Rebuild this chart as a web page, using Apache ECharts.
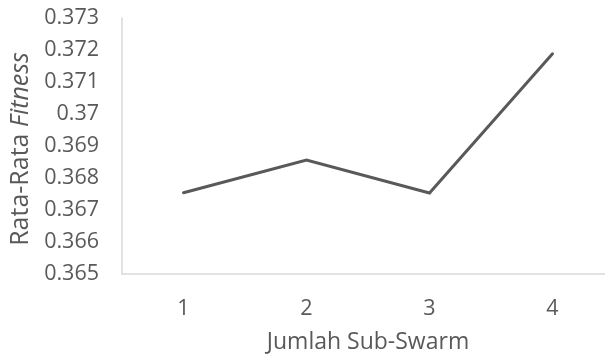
<!DOCTYPE html>
<html>
<head>
<meta charset="utf-8">
<script src="https://cdn.jsdelivr.net/npm/echarts@6/dist/echarts.min.js"></script>
<style>
html,body{margin:0;padding:0;background:#fff;}
#c{width:605px;height:358px;}
</style>
</head>
<body>
<div id="c"></div>
<script>
var categories = ['1', '2', '3', '4'];
var fitnessValues = [0.36754, 0.36856, 0.36753, 0.37188];
var yMin = 0.365, yMax = 0.373, yStep = 0.001;

var chart = echarts.init(document.getElementById('c'), null, {renderer: 'canvas'});
var fontFam = '"Open Sans", sans-serif';
chart.setOption({
  animation: false,
  grid: {left: 122, top: 18, width: 492, height: 256, containLabel: false, outerBoundsMode: 'none'},
  xAxis: {
    type: 'category',
    data: categories,
    boundaryGap: true,
    axisLine: {lineStyle: {color: '#d9d9d9', width: 1.5}},
    axisTick: {show: false},
    axisLabel: {color: '#595959', fontSize: 21.5, fontFamily: fontFam, margin: 24},
    name: 'Jumlah Sub-Swarm',
    nameLocation: 'middle',
    nameGap: 57,
    nameTextStyle: {color: '#595959', fontSize: 23, fontFamily: fontFam}
  },
  yAxis: {
    type: 'value',
    min: yMin,
    max: yMax,
    interval: yStep,
    splitLine: {show: false},
    axisLine: {show: true, lineStyle: {color: '#d9d9d9', width: 1.5}},
    axisTick: {show: false},
    axisLabel: {
      color: '#595959', fontSize: 21.5, fontFamily: fontFam, margin: 23,
      formatter: function (v) { return String(+v.toFixed(3)); }
    },
    name: '{a|Rata-Rata }{b|Fitness}',
    nameLocation: 'middle',
    nameRotate: 90,
    nameGap: 86,
    nameTextStyle: {
      color: '#595959', fontSize: 25, fontFamily: fontFam,
      padding: [0, 6, 0, 0],
      rich: {
        a: {color: '#595959', fontSize: 25, fontFamily: fontFam},
        b: {color: '#595959', fontSize: 25, fontFamily: fontFam, fontStyle: 'italic'}
      }
    }
  },
  series: [{
    type: 'line',
    data: fitnessValues,
    symbol: 'none',
    lineStyle: {color: '#595959', width: 3, cap: 'round', join: 'miter'}
  }]
});
</script>
</body>
</html>
